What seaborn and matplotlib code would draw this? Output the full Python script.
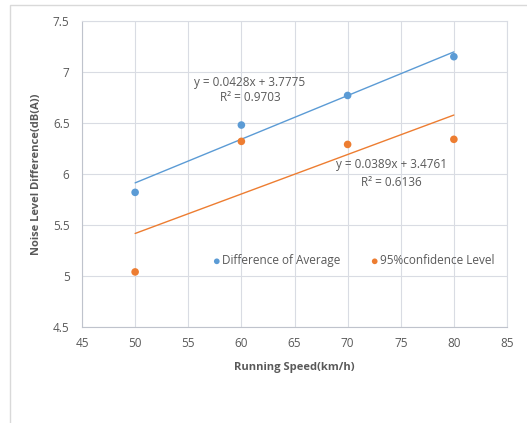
import numpy as np
import matplotlib
matplotlib.use("Agg")
import matplotlib.pyplot as plt
import seaborn as sns
from matplotlib.patches import Rectangle

speed = [50, 60, 70, 80]
diff_avg = [5.82, 6.48, 6.77, 7.15]
conf95 = [5.04, 6.32, 6.29, 6.34]

blue = "#5B9BD5"
orange = "#ED7D31"
grey_txt = "#595959"

sns.set_style("white")
plt.rcParams["font.family"] = ["Open Sans", "DejaVu Sans"]

fig = plt.figure(figsize=(5.27, 4.23), dpi=100)
ax = fig.add_axes([82 / 527, 1 - 327 / 423, 425 / 527, 306 / 423])

# outer chart border
fig.patches.append(Rectangle((10 / 527, -0.1), 1.2, 1 - 5 / 423 + 0.1,
                             transform=fig.transFigure, fill=False,
                             edgecolor="#D9D9D9", lw=1))

sns.scatterplot(x=speed, y=diff_avg, color=blue, s=30, edgecolor="none",
                ax=ax, label="Difference of Average", zorder=3)
sns.scatterplot(x=speed, y=conf95, color=orange, s=30, edgecolor="none",
                ax=ax, label="95%confidence Level", zorder=3)

sns.regplot(x=speed, y=diff_avg, scatter=False, ci=None, color=blue,
            line_kws={"lw": 1}, ax=ax)
sns.regplot(x=speed, y=conf95, scatter=False, ci=None, color=orange,
            line_kws={"lw": 1}, ax=ax)

ax.set_xlim(45, 85)
ax.set_ylim(4.5, 7.5)
ax.set_xticks(np.arange(45, 86, 5))
ax.set_yticks(np.arange(4.5, 7.6, 0.5))
ax.set_yticklabels(["4.5", "5", "5.5", "6", "6.5", "7", "7.5"])
ax.grid(True, color="#D9DCE3", lw=0.8)
ax.set_axisbelow(True)
for s in ["top", "right"]:
    ax.spines[s].set_color("#D9DCE3")
    ax.spines[s].set_linewidth(0.8)
for s in ["left", "bottom"]:
    ax.spines[s].set_color("#BFC3CC")
    ax.spines[s].set_linewidth(0.8)
ax.tick_params(axis="y", length=0, labelsize=8.5, colors=grey_txt, pad=9)
ax.tick_params(axis="x", length=0, labelsize=8.5, colors=grey_txt, pad=7)

ax.set_xlabel("Running Speed(km/h)", fontsize=8, fontweight="bold", color=grey_txt, labelpad=9)
ax.set_ylabel("Noise Level Difference(dB(A))", fontsize=8, fontweight="bold", color=grey_txt, labelpad=8)

ax.text(60.8, 6.90, "y = 0.0428x + 3.7775", ha="center", va="center", fontsize=8.5, color=grey_txt)
ax.text(60.8, 6.75, "R² = 0.9703", ha="center", va="center", fontsize=8.5, color=grey_txt)
ax.text(74.1, 6.09, "y = 0.0389x + 3.4761", ha="center", va="center", fontsize=8.5, color=grey_txt)
ax.text(74.1, 5.92, "R² = 0.6136", ha="center", va="center", fontsize=8.5, color=grey_txt)

leg = ax.legend(loc="center", bbox_to_anchor=(0.63, 0.216), ncol=2, frameon=False,
                fontsize=8.5, handletextpad=-0.55, columnspacing=1.9, markerscale=0.75)
for t in leg.get_texts():
    t.set_color(grey_txt)

fig.savefig("out.png", dpi=100)
